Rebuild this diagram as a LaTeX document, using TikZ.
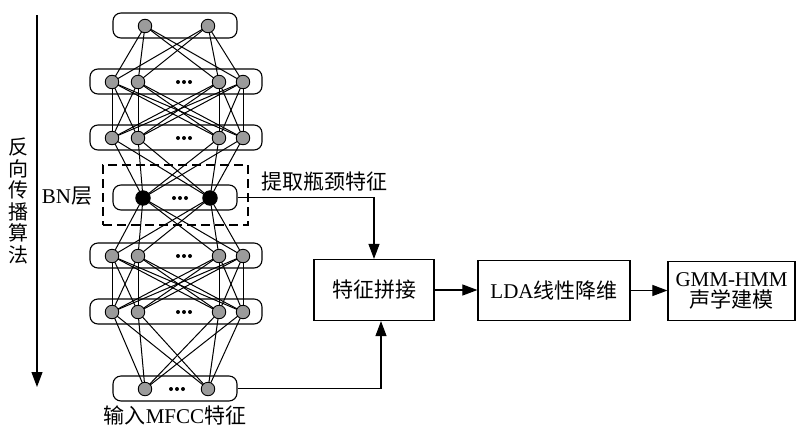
\documentclass[tikz,border=0pt]{standalone}
\usepackage{fontspec}
\setmainfont{Liberation Serif}
\newfontfamily\cjk{Noto Sans CJK SC}
\newcommand\zh[1]{{\cjk\fontsize{21}{22}\selectfont #1}}
\usetikzlibrary{arrows.meta}
\definecolor{ng}{RGB}{155,155,155}
\pgfdeclarelayer{bg}
\pgfsetlayers{bg,main}
\begin{document}
\begin{tikzpicture}[x=1pt,y=-1pt,
  lay/.style={draw, rounded corners=8pt, line width=1.1pt, inner sep=0pt},
  neu/.style={circle, draw, fill=ng, minimum size=13.5pt, inner sep=0pt, line width=0.9pt},
  bnn/.style={circle, draw, fill=black, minimum size=14.5pt, inner sep=0pt, line width=0.9pt},
  con/.style={line width=1pt},
  blk/.style={draw, line width=1.2pt, inner sep=0pt},
  arr/.style={-{Triangle[length=15pt,width=11pt]}, line width=1.1pt},
  txt/.style={font=\fontsize{21}{22}\selectfont, inner sep=0pt}
]
\useasboundingbox (0,0) rectangle (797,429);

% layer boxes
\node[lay, minimum width=124pt, minimum height=25pt] (b1) at (175,25.5) {};
\node[lay, minimum width=172pt, minimum height=25pt] (b2) at (176,81.5) {};
\node[lay, minimum width=172pt, minimum height=25pt] (b3) at (176,137.5) {};
\node[lay, minimum width=124pt, minimum height=25pt] (b4) at (175,197.5) {};
\node[lay, minimum width=172pt, minimum height=25pt] (b5) at (176,255.5) {};
\node[lay, minimum width=172pt, minimum height=25pt] (b6) at (176,311.5) {};
\node[lay, minimum width=124pt, minimum height=25pt] (b7) at (175,388.5) {};

% neurons
\node[neu] (n1a) at (145,26) {};
\node[neu] (n1b) at (208,26) {};
\foreach \r/\y in {2/82,3/138,5/256,6/312}{
  \node[neu] (n\r a) at (112,\y) {};
  \node[neu] (n\r b) at (138,\y) {};
  \node[neu] (n\r c) at (219,\y) {};
  \node[neu] (n\r d) at (243,\y) {};
  \foreach \dx in {-6,0,6} \fill (184+\dx,\y) circle (2pt);
}
\node[bnn] (n4a) at (143,198) {};
\node[bnn] (n4b) at (210,198) {};
\foreach \dx in {-6,0,6} \fill (180+\dx,198) circle (2pt);
\node[neu] (n7a) at (145,389) {};
\node[neu] (n7b) at (208,389) {};
\foreach \dx in {-6,0,6} \fill (177+\dx,389) circle (2pt);

% connections
\begin{pgfonlayer}{bg}
\foreach \u in {n1a,n1b} \foreach \v in {n2a,n2b,n2c,n2d} \draw[con] (\u.center) -- (\v.center);
\foreach \u in {n2a,n2b,n2c,n2d} \foreach \v in {n3a,n3b,n3c,n3d} \draw[con] (\u.center) -- (\v.center);
\foreach \u in {n3a,n3b,n3c,n3d} \foreach \v in {n4a,n4b} \draw[con] (\u.center) -- (\v.center);
\foreach \u in {n4a,n4b} \foreach \v in {n5a,n5b,n5c,n5d} \draw[con] (\u.center) -- (\v.center);
\foreach \u in {n5a,n5b,n5c,n5d} \foreach \v in {n6a,n6b,n6c,n6d} \draw[con] (\u.center) -- (\v.center);
\foreach \u in {n6a,n6b,n6c,n6d} \foreach \v in {n7a,n7b} \draw[con] (\u.center) -- (\v.center);
\end{pgfonlayer}

% dashed BN box
\node[draw, line width=1.1pt, dash pattern=on 9pt off 5pt, minimum width=145pt, minimum height=60pt, inner sep=0pt] (bnbox) at (175.5,195) {};

% left arrow and label
\coordinate (at) at (37,15);
\coordinate (ab) at (37,387);
\draw[arr] (at) -- (ab);
\node[txt, align=center, font=\cjk\fontsize{20}{21.5}\selectfont] (bp) at (19,201) {反\\向\\传\\播\\算\\法};

\node[txt] (bnl) at (67,196) {BN\zh{层}};
\node[txt] (tq) at (324.5,182) {\zh{提取瓶颈特征}};
\node[txt] (inl) at (175,415) {\zh{输入}MFCC\zh{特征}};

% right boxes
\node[blk, minimum width=120pt, minimum height=61pt] (cat) at (374,290) {\zh{特征拼接}};
\node[blk, minimum width=152pt, minimum height=60pt, font=\fontsize{21}{22}\selectfont] (lda) at (554,290.5) {LDA\zh{线性降维}};
\node[blk, minimum width=127pt, minimum height=59pt, align=center, font=\fontsize{21}{22}\selectfont] (gmm) at (731.5,291) {GMM-HMM\\[-1pt]\zh{声学建模}};

\draw[arr] (cat.east) -- (cat.east -| lda.west);
\draw[arr] (lda.east) -- (lda.east -| gmm.west);
\draw[arr] (b4.east) -| (cat.north);
\draw[arr] (b7.east) -| ([xshift=7pt]cat.south);
\end{tikzpicture}
\end{document}
